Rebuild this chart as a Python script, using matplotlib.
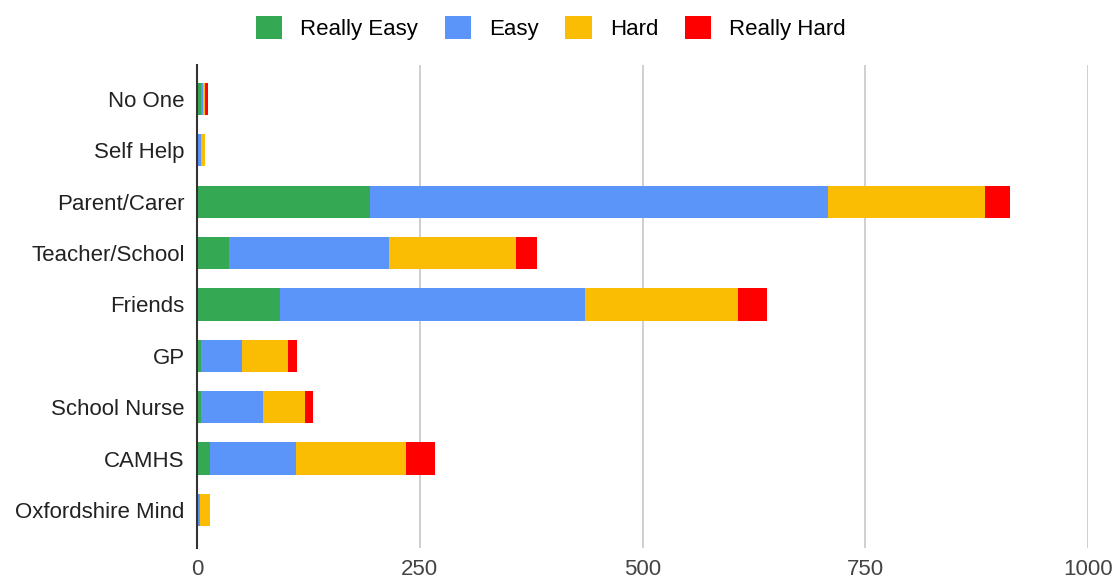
import numpy as np
import matplotlib.pyplot as plt

categories = ['No One', 'Self Help', 'Parent/Carer', 'Teacher/School', 'Friends',
              'GP', 'School Nurse', 'CAMHS', 'Oxfordshire Mind']
really_easy = [5, 1, 194, 36, 93, 5, 5, 14, 1]
easy = [2, 4, 514, 179, 342, 45, 69, 97, 2]
hard = [2, 4, 176, 143, 172, 52, 47, 124, 11]
really_hard = [3, 0, 28, 24, 33, 10, 9, 32, 0]

series = [('Really Easy', really_easy, '#34A853'),
          ('Easy', easy, '#5B95F9'),
          ('Hard', hard, '#FBBC04'),
          ('Really Hard', really_hard, '#FF0000')]

plt.rcParams['font.family'] = ['Liberation Sans', 'DejaVu Sans']

fig = plt.figure(figsize=(11.17, 5.82), dpi=100)
ax = fig.add_axes([0.1764, 0.0584, 0.7977, 0.8299])

y = np.arange(len(categories))
left = np.zeros(len(categories))
for name, vals, color in series:
    vals = np.array(vals, dtype=float)
    ax.barh(y, vals, left=left, height=0.63, color=color, label=name, zorder=3)
    left += vals

ax.set_xlim(0, 1000)
ax.set_ylim(8.74, -0.66)
ax.set_yticks(y)
ax.set_yticklabels(categories, fontsize=16, color='#222222')
ax.set_xticks([0, 250, 500, 750, 1000])
ax.set_xticklabels(['0', '250', '500', '750', '1000'], fontsize=16, color='#444444')
ax.tick_params(length=0)
ax.tick_params(axis='x', pad=8)
ax.tick_params(axis='y', pad=9)
ax.grid(axis='x', color='#cccccc', linewidth=1.3, zorder=0)
for s in ['top', 'right', 'bottom']:
    ax.spines[s].set_visible(False)
ax.spines['left'].set_color('#333333')
ax.spines['left'].set_linewidth(1.5)
ax.spines['left'].set_zorder(4)

fig.legend(loc='upper center', bbox_to_anchor=(0.493, 1.007), ncol=4, frameon=False,
           fontsize=16, handlelength=1.2, handleheight=1.2, columnspacing=1.2,
           handletextpad=0.8)

fig.savefig('out.png', dpi=100)
